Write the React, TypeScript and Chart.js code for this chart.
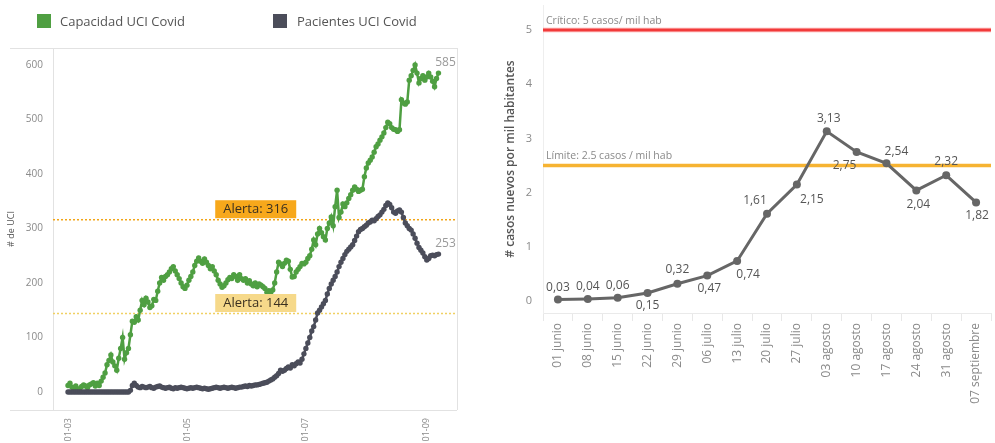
import React, { useEffect, useRef } from 'react';
import { Chart, registerables } from 'chart.js';

Chart.register(...registerables);

const FONT = "'Open Sans', 'Noto Sans', sans-serif";
const GREEN = '#4f9f42';
const DARK = '#4b4d5a';

// ---- Left chart data (daily, from 1 March) ----
const capacidad = [
  12, 16, 9, 7, 11, 5, 6, 10, 13, 11,
  8, 13, 15, 17, 11, 16, 12, 20, 27, 35,
  50, 58, 68, 55, 48, 40, 62, 80, 100, 60,
  72, 80, 105, 130, 128, 138, 132, 150, 168, 160,
  172, 165, 155, 158, 170, 168, 185, 200, 210, 205,
  212, 215, 220, 226, 230, 222, 215, 208, 200, 193,
  190, 196, 205, 212, 220, 232, 240, 246, 240, 236,
  244, 238, 232, 226, 230, 222, 215, 205, 198, 192,
  195, 200, 206, 210, 208, 215, 212, 205, 215, 208,
  205, 208, 200, 204, 198, 195, 200, 193, 198, 196,
  193, 190, 183, 186, 183, 187, 200, 220, 238, 235,
  230, 236, 242, 240, 225, 211, 212, 220, 225, 230,
  236, 235, 238, 245, 250, 262, 279, 270, 290, 300,
  292, 285, 279, 300, 310, 321, 305, 340, 370, 320,
  330, 345, 340, 347, 355, 362, 370, 376, 372, 368,
  370, 372, 395, 411, 420, 425, 431, 440, 450, 455,
  462, 468, 475, 485, 495, 492, 485, 482, 481, 478,
  481, 536, 530, 528, 532, 572, 580, 590, 600, 585,
  567, 575, 580, 572, 578, 585, 578, 570, 560, 575,
  585,
];

const pacientes = [
  0, 0, 0, 0, 0, 0, 0, 0, 0, 0,
  0, 0, 0, 0, 0, 0, 0, 0, 0, 0,
  0, 0, 0, 0, 0, 0, 0, 0, 0, 0,
  0, 0, 3, 12, 16, 12, 9, 8, 10, 9,
  8, 9, 10, 8, 7, 9, 10, 11, 9, 8,
  7, 8, 9, 7, 6, 8, 7, 8, 9, 8,
  7, 6, 7, 8, 7, 8, 9, 8, 7, 6,
  7, 6, 5, 6, 7, 8, 9, 8, 7, 8,
  9, 8, 7, 8, 9, 8, 7, 8, 9, 9,
  10, 11, 10, 12, 11, 12, 13, 13, 14, 15,
  16, 17, 18, 20, 22, 24, 27, 30, 34, 40,
  38, 40, 43, 46, 44, 50, 48, 52, 55, 53,
  60, 70, 80, 90, 100, 112, 120, 132, 145, 150,
  156, 162, 168, 180, 190, 198, 205, 212, 220, 230,
  238, 245, 252, 258, 262, 266, 270, 278, 286, 294,
  298, 300, 303, 306, 310, 312, 315, 314, 318, 322,
  325, 330, 335, 342, 347, 344, 338, 330, 328, 332,
  334, 330, 320, 310, 305, 300, 297, 290, 282, 273,
  265, 260, 255, 248, 242, 245, 250, 251, 250, 252,
  253,
];

const alertas = [316, 144];
const alertaLabels = ['Alerta: 316', 'Alerta: 144'];
const leftTickDays = [0, 61, 122, 184];
const leftTickLabels = ['01-03', '01-05', '01-07', '01-09'];
const leftYTicks = [0, 100, 200, 300, 400, 500, 600];

// ---- Right chart data (weekly) ----
const semanas = [
  '01 junio', '08 junio', '15 junio', '22 junio', '29 junio',
  '06 julio', '13 julio', '20 julio', '27 julio',
  '03 agosto', '10 agosto', '17 agosto', '24 agosto', '31 agosto',
  '07 septiembre',
];
const casos = [0.03, 0.04, 0.06, 0.15, 0.32, 0.47, 0.74, 1.61, 2.15, 3.13, 2.75, 2.54, 2.04, 2.32, 1.82];
const critico = 5;
const limite = 2.5;
const rightYTicks = [0, 1, 2, 3, 4, 5];

// label placement offsets (dx, dy) for the weekly values
const labelOffsets: [number, number][] = [
  [0, -12], [0, -12], [0, -12], [0, 13], [0, -14], [2, 13], [11, 14],
  [-12, -13], [15, 15], [2, -13], [-12, 14], [10, -12], [2, 14], [0, -14], [1, 13],
];

function leftDecor() {
  return {
    id: 'leftDecor',
    beforeDatasetsDraw(chart: any) {
      const { ctx, chartArea: a, scales } = chart;
      ctx.save();
      ctx.strokeStyle = '#e2e2e2';
      ctx.lineWidth = 1;
      ctx.beginPath();
      ctx.moveTo(a.left - 43, a.top + 0.5);
      ctx.lineTo(a.right, a.top + 0.5);
      ctx.moveTo(a.left - 43, a.bottom + 0.5);
      ctx.lineTo(a.right, a.bottom + 0.5);
      ctx.moveTo(a.right + 0.5, a.top);
      ctx.lineTo(a.right + 0.5, a.bottom);
      ctx.moveTo(a.left + 0.5, a.top);
      ctx.lineTo(a.left + 0.5, a.bottom);
      ctx.stroke();
      const colors = ['#f2a516', '#f0d063'];
      alertas.forEach((v, i) => {
        const y = scales.y.getPixelForValue(v);
        ctx.strokeStyle = colors[i];
        ctx.lineWidth = 1.5;
        ctx.setLineDash([2, 2]);
        ctx.beginPath();
        ctx.moveTo(a.left, y);
        ctx.lineTo(a.right, y);
        ctx.stroke();
      });
      ctx.restore();
    },
    afterDatasetsDraw(chart: any) {
      const { ctx, scales } = chart;
      ctx.save();
      const fills = ['#f7a81b', '#f6d98a'];
      alertas.forEach((v, i) => {
        const y = scales.y.getPixelForValue(v);
        const x0 = scales.x.getPixelForValue(75.5);
        const w = 81;
        const h = 18;
        ctx.fillStyle = fills[i];
        ctx.fillRect(x0, y - h - 1.5, w, h);
        ctx.fillStyle = '#3a3020';
        ctx.font = `13px ${FONT}`;
        ctx.textAlign = 'center';
        ctx.textBaseline = 'middle';
        ctx.fillText(alertaLabels[i], x0 + w / 2, y - h / 2 - 1);
      });
      chart.data.datasets.forEach((ds: any, di: number) => {
        const meta = chart.getDatasetMeta(di);
        const last = meta.data[meta.data.length - 1];
        const val = ds.data[ds.data.length - 1].y;
        ctx.fillStyle = '#9a9a9a';
        ctx.font = `12px ${FONT}`;
        ctx.textAlign = 'center';
        ctx.textBaseline = 'middle';
        ctx.fillText(String(val), last.x + 7, last.y - 11);
      });
      ctx.restore();
    },
  };
}

function rightDecor() {
  return {
    id: 'rightDecor',
    beforeDatasetsDraw(chart: any) {
      const { ctx, chartArea: a, scales } = chart;
      ctx.save();
      const lines = [
        { v: critico, color: '#f23a3a', halo: 'rgba(255,120,120,0.35)', text: 'Crítico: 5 casos/ mil hab' },
        { v: limite, color: '#f6b332', halo: 'rgba(250,200,110,0.35)', text: 'Límite: 2.5 casos / mil hab' },
      ];
      lines.forEach((l) => {
        const y = scales.y.getPixelForValue(l.v);
        ctx.strokeStyle = l.halo;
        ctx.lineWidth = 5;
        ctx.beginPath();
        ctx.moveTo(a.left, y);
        ctx.lineTo(a.right, y);
        ctx.stroke();
        ctx.strokeStyle = l.color;
        ctx.lineWidth = 3;
        ctx.beginPath();
        ctx.moveTo(a.left, y);
        ctx.lineTo(a.right, y);
        ctx.stroke();
        ctx.fillStyle = '#8a8a8a';
        ctx.font = `10.5px ${FONT}`;
        ctx.textAlign = 'left';
        ctx.textBaseline = 'middle';
        ctx.fillText(l.text, a.left + 3, y - 9);
      });
      ctx.restore();
    },
    afterDatasetsDraw(chart: any) {
      const { ctx } = chart;
      const meta = chart.getDatasetMeta(0);
      ctx.save();
      ctx.fillStyle = '#555';
      ctx.font = `12px ${FONT}`;
      ctx.textAlign = 'center';
      ctx.textBaseline = 'middle';
      meta.data.forEach((p: any, i: number) => {
        const [dx, dy] = labelOffsets[i];
        ctx.fillText(casos[i].toFixed(2).replace('.', ','), p.x + dx, p.y + dy);
      });
      ctx.restore();
    },
  };
}

export default function App() {
  const leftRef = useRef<HTMLCanvasElement>(null);
  const rightRef = useRef<HTMLCanvasElement>(null);

  useEffect(() => {
    const left = new Chart(leftRef.current as HTMLCanvasElement, {
      type: 'line',
      data: {
        datasets: [
          {
            label: 'Pacientes UCI Covid',
            data: pacientes.map((v, i) => ({ x: i, y: v })),
            borderColor: DARK,
            backgroundColor: DARK,
            pointBackgroundColor: DARK,
            borderWidth: 2.5,
            pointRadius: 2.7,
            pointBorderWidth: 0,
          },
          {
            label: 'Capacidad UCI Covid',
            data: capacidad.map((v, i) => ({ x: i, y: v })),
            borderColor: GREEN,
            backgroundColor: GREEN,
            pointBackgroundColor: GREEN,
            borderWidth: 2.5,
            pointRadius: 2.7,
            pointBorderWidth: 0,
          },
        ],
      },
      options: {
        animation: false,
        responsive: false,
        maintainAspectRatio: false,
        layout: { padding: { left: 0, right: 13, top: 48, bottom: 0 } },
        plugins: { legend: { display: false }, tooltip: { enabled: false } },
        scales: {
          x: {
            type: 'linear',
            min: -7.7,
            max: 199.5,
            afterBuildTicks: (s: any) => {
              s.ticks = leftTickDays.map((v) => ({ value: v }));
            },
            afterFit: (s: any) => {
              s.height = 33;
            },
            ticks: {
              autoSkip: false,
              maxRotation: 90,
              minRotation: 90,
              padding: 8,
              color: '#8a8a8a',
              font: { size: 9, family: FONT },
              callback: (v: any) => {
                const idx = leftTickDays.indexOf(Number(v));
                return idx >= 0 ? leftTickLabels[idx] : '';
              },
            },
            grid: { display: false, drawTicks: false },
            border: { display: false },
          },
          y: {
            min: -33,
            max: 631,
            afterBuildTicks: (s: any) => {
              s.ticks = leftYTicks.map((v) => ({ value: v }));
            },
            afterFit: (s: any) => {
              s.width = 53;
            },
            ticks: { padding: 10, color: '#8a8a8a', font: { size: 10, family: FONT } },
            grid: { display: false, drawTicks: false },
            border: { display: false },
            title: {
              display: true,
              text: '# de UCI',
              color: '#555',
              font: { size: 9, family: FONT },
              padding: { top: 6, bottom: 0 },
            },
          },
        },
      },
      plugins: [leftDecor()],
    } as any);

    const right = new Chart(rightRef.current as HTMLCanvasElement, {
      type: 'line',
      data: {
        labels: semanas,
        datasets: [
          {
            label: 'casos',
            data: casos,
            borderColor: '#666',
            backgroundColor: '#666',
            pointBackgroundColor: '#666',
            borderWidth: 3,
            pointRadius: 4,
            pointBorderWidth: 0,
          },
        ],
      },
      options: {
        animation: false,
        responsive: false,
        maintainAspectRatio: false,
        layout: { padding: { left: 0, right: 0, top: 5, bottom: 0 } },
        plugins: { legend: { display: false }, tooltip: { enabled: false } },
        scales: {
          x: {
            type: 'category',
            offset: true,
            afterFit: (s: any) => {
              s.height = 130;
              s.paddingLeft = 0;
              s.paddingRight = 0;
            },
            ticks: {
              autoSkip: false,
              maxRotation: 90,
              minRotation: 90,
              padding: 2,
              color: '#8a8a8a',
              font: { size: 12, family: FONT },
            },
            grid: { offset: true, drawOnChartArea: false, drawTicks: true, tickLength: 8, color: '#e8e8e8' },
            border: { display: true, color: '#eaeaea' },
          },
          y: {
            min: -0.22,
            max: 5.46,
            afterBuildTicks: (s: any) => {
              s.ticks = rightYTicks.map((v) => ({ value: v }));
            },
            afterFit: (s: any) => {
              s.width = 53;
              s.paddingTop = 0;
              s.paddingBottom = 0;
            },
            ticks: { padding: 11, color: '#8a8a8a', font: { size: 11, family: FONT } },
            grid: { display: false, drawTicks: false },
            border: { display: true, color: '#eeeeee' },
            title: {
              display: true,
              text: '# casos nuevos por mil habitantes',
              color: '#555',
              font: { size: 12, family: FONT, weight: '600' },
              padding: { top: 13, bottom: 0 },
            },
          },
        },
      },
      plugins: [rightDecor()],
    } as any);

    return () => {
      left.destroy();
      right.destroy();
    };
  }, []);

  const legendText: React.CSSProperties = {
    position: 'absolute',
    top: 12,
    fontFamily: FONT,
    fontSize: 13,
    color: '#555',
    lineHeight: '18px',
    whiteSpace: 'nowrap',
  };
  const swatch = (color: string, left: number): React.CSSProperties => ({
    position: 'absolute',
    left,
    top: 14,
    width: 14,
    height: 14,
    background: color,
  });

  return (
    <div style={{ position: 'fixed', left: 0, top: 0, width: 995, height: 443, background: '#fff', overflow: 'hidden' }}>
      <canvas ref={leftRef} width={470} height={443} style={{ position: 'absolute', left: 0, top: 0, width: 470, height: 443 }} />
      <canvas ref={rightRef} width={505} height={443} style={{ position: 'absolute', left: 490, top: 0, width: 505, height: 443 }} />
      <div style={swatch(GREEN, 37)} />
      <div style={{ ...legendText, left: 60 }}>Capacidad UCI Covid</div>
      <div style={swatch(DARK, 273)} />
      <div style={{ ...legendText, left: 297 }}>Pacientes UCI Covid</div>
    </div>
  );
}
